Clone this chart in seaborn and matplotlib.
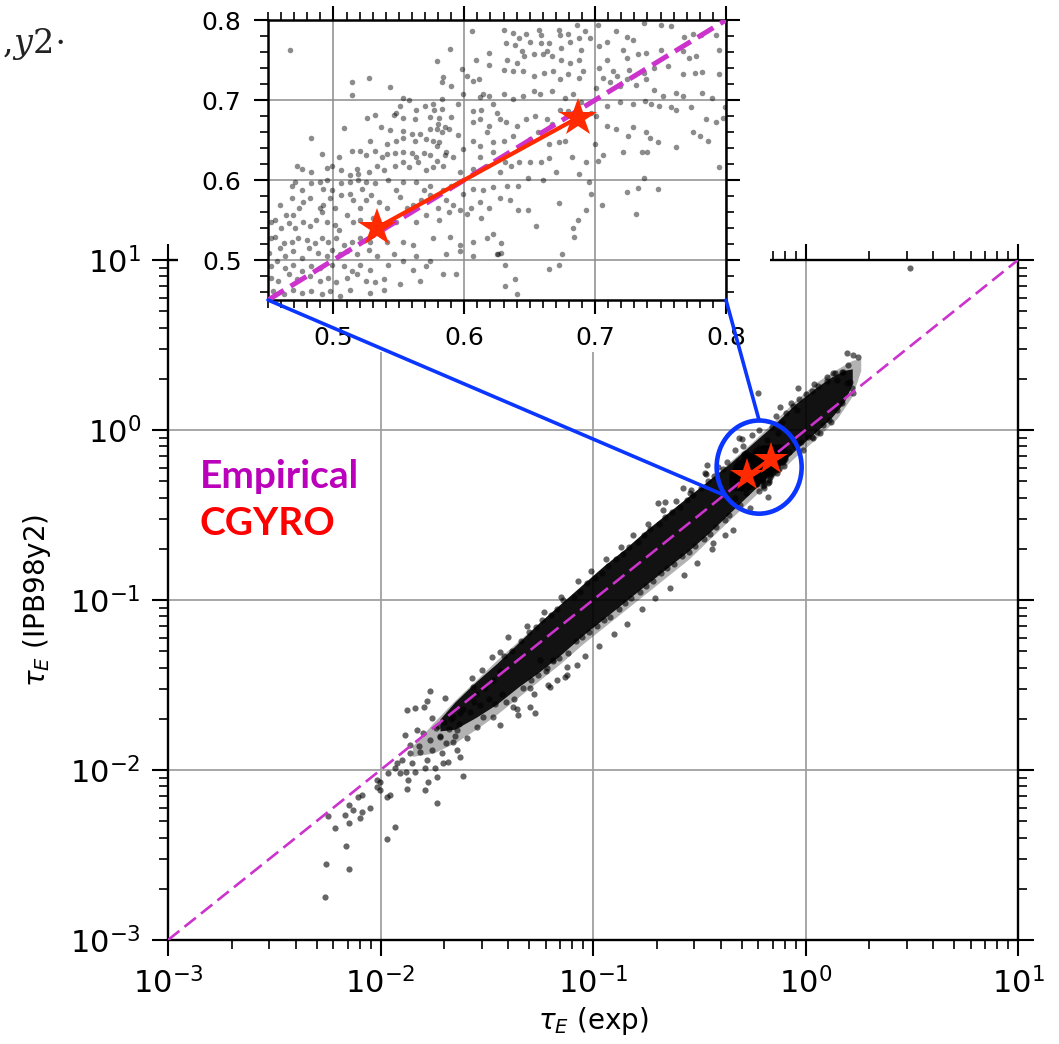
import numpy as np
import pandas as pd
import matplotlib
matplotlib.use("Agg")
import matplotlib.pyplot as plt
import seaborn as sns
from matplotlib.patches import Ellipse, Rectangle, ConnectionPatch
from matplotlib.ticker import MultipleLocator

# ---------------------------------------------------------------------------
# Data
# ---------------------------------------------------------------------------
axis_limits = [1e-3, 1e1]
zoom_limits = [0.45, 0.80]

# Sparse low-confinement tail and the edges of the database cloud (log10 values)
tail_log = np.array([
    (-2.261, -2.747), (-2.256, -2.553), (-2.148, -2.582), (-2.162, -2.447), (-1.969, -2.406),
    (-1.932, -2.335), (-2.214, -2.341), (-2.247, -2.271), (-2.167, -2.265), (-2.148, -2.312),
    (-2.096, -2.282), (-2.087, -2.247), (-2.129, -2.235), (-2.150, -2.206), (-2.049, -2.224),
    (-2.087, -2.147), (-2.106, -2.159), (-2.016, -2.059), (-2.002, -2.118), (-1.969, -2.159),
    (-1.955, -2.147), (-1.875, -2.112), (-1.791, -2.118), (-1.734, -2.194), (-1.612, -2.035),
    (-1.875, -1.647), (-1.838, -1.635), (-1.795, -1.629), (-1.767, -1.535), (-1.781, -1.594),
    (-2.002, -2.071), (-2.016, -2.100), (-1.965, -2.018), (-1.922, -1.959), (-1.861, -1.900),
    (-1.814, -1.894), (-1.781, -1.941), (-1.744, -1.988), (-1.706, -1.959), (-1.682, -1.953),
    (-1.640, -1.882), (-1.626, -1.924), (-1.908, -2.018), (-1.880, -2.012), (-1.838, -2.012),
    (-1.871, -2.059), (-1.776, -2.071), (-1.734, -2.041), (-1.885, -1.794), (-1.828, -1.765),
    (-1.861, -1.853), (-1.767, -1.824), (-1.720, -1.806), (-1.659, -1.835), (-1.593, -1.812),
    (-1.640, -1.765), (-1.758, -1.694), (-1.696, -1.576), (-1.626, -1.665), (-1.546, -1.747),
    (-1.518, -1.688), (-1.471, -1.688), (-1.438, -1.735), (-1.376, -1.629), (-1.353, -1.676),
    (-1.296, -1.629), (-1.273, -1.665), (-1.296, -1.518), (-1.202, -1.512), (-1.169, -1.471),
    (-1.122, -1.441), (-1.216, -1.400), (-1.249, -1.353), (-1.188, -1.353), (-1.122, -1.394),
    (-1.075, -1.382), (-1.569, -1.459), (-1.522, -1.412), (-1.475, -1.335), (-1.438, -1.306),
    (-1.565, -1.512), (-1.700, -1.720), (-1.680, -1.760), (-1.660, -1.690), (-1.630, -1.730),
    (-1.610, -1.640), (-1.580, -1.660), (-1.560, -1.600), (-1.550, -1.550), (-1.530, -1.620),
    (-1.510, -1.520), (-1.490, -1.580), (-1.470, -1.470), (-1.460, -1.610), (-1.440, -1.420),
    (-1.430, -1.550), (-1.720, -1.800), (-1.740, -1.750), (-1.690, -1.840), (-1.650, -1.800),
    (-1.930, -1.990), (-1.900, -1.940), (-1.850, -1.960), (-1.820, -1.860), (-1.800, -1.780),
    (-1.790, -1.990), (-1.760, -1.880), (-1.730, -1.740), (-1.710, -1.900), (-1.670, -1.700),
])

edge_log = np.array([
    (-1.42, -1.33), (-1.41, -1.60), (-1.38, -1.30), (-1.37, -1.58), (-1.34, -1.24), (-1.33, -1.52),
    (-1.30, -1.19), (-1.29, -1.47), (-1.27, -1.16), (-1.26, -1.44), (-1.24, -1.12), (-1.22, -1.42),
    (-1.20, -1.09), (-1.19, -1.36), (-1.17, -1.05), (-1.16, -1.34), (-1.14, -1.00), (-1.12, -1.31),
    (-1.09, -0.98), (-1.08, -1.24), (-1.06, -0.95), (-1.05, -1.22), (-1.03, -0.90), (-1.02, -1.19),
    (-0.99, -0.87), (-0.98, -1.15), (-0.96, -0.84), (-0.95, -1.12), (-0.93, -0.80), (-0.92, -1.10),
    (-0.89, -0.76), (-0.88, -1.05), (-0.86, -0.73), (-0.85, -1.02), (-0.83, -0.69), (-0.82, -0.99),
    (-0.79, -0.66), (-0.78, -0.95), (-0.76, -0.62), (-0.75, -0.92), (-0.73, -0.58), (-0.72, -0.89),
    (-0.69, -0.55), (-0.68, -0.84), (-0.66, -0.51), (-0.65, -0.81), (-0.63, -0.48), (-0.62, -0.79),
    (-0.59, -0.45), (-0.58, -0.74), (-0.56, -0.41), (-0.55, -0.72), (-0.53, -0.38), (-0.52, -0.68),
    (-0.49, -0.34), (-0.48, -0.64), (-0.46, -0.30), (-0.45, -0.61), (-0.43, -0.27), (-0.42, -0.57),
    (-0.39, -0.23), (-0.38, -0.53), (-0.37, -0.19), (-0.36, -0.50),
    (-0.313, -0.047), (-0.294, -0.094), (-0.463, -0.206), (-0.473, -0.253), (-0.576, -0.341),
    (-0.544, -0.371), (-0.694, -0.429), (-0.661, -0.424), (-0.224, 0.218), (-0.176, -0.394),
    (-0.341, -0.588), (-0.435, -0.665), (-0.30, -0.05), (-0.25, -0.03), (-0.22, 0.00),
    (-0.18, -0.06), (-0.16, 0.02), (-0.13, -0.02), (-0.11, 0.05), (-0.14, 0.08),
    (-0.33, -0.40), (-0.31, -0.44), (-0.28, -0.37), (-0.22, -0.36),
    (-0.09, 0.10), (-0.08, -0.13), (-0.06, 0.14), (-0.05, -0.09), (-0.03, 0.18), (-0.02, -0.07),
    (0.00, 0.21), (0.01, -0.04), (0.03, 0.23), (0.035, -0.047), (0.054, -0.012), (0.06, 0.26),
    (0.08, 0.03), (0.10, 0.29), (0.101, 0.312), (0.11, 0.06), (0.129, 0.335), (0.139, 0.335),
    (0.149, 0.294), (0.15, 0.12), (0.172, 0.341), (0.176, 0.341), (0.195, 0.276), (0.195, 0.453),
    (0.209, 0.282), (0.219, 0.247), (0.224, 0.218), (0.224, 0.441), (0.247, 0.429),
    (-0.035, 0.247), (-0.12, 0.135), (-0.04, 0.118), (0.031, -0.041), (0.492, 0.953),
    (-1.40, -1.22), (-1.36, -1.64), (-1.31, -1.15), (-1.28, -1.55), (-1.23, -1.07), (-1.21, -1.50),
    (-1.15, -0.98), (-1.13, -1.45), (-1.07, -0.89), (-1.04, -1.33), (-1.01, -0.83), (-0.97, -1.27),
    (-0.94, -0.76), (-0.90, -1.20), (-0.87, -0.69), (-0.84, -1.14), (-0.81, -0.62), (-0.77, -1.05),
    (-0.74, -0.55), (-0.71, -0.99), (-0.67, -0.47), (-0.64, -0.93), (-0.61, -0.42), (-0.57, -0.85),
    (-0.54, -0.35), (-0.51, -0.78), (-0.47, -0.26), (-0.44, -0.70), (-0.41, -0.22), (-0.38, -0.62),
    (-0.26, -0.46), (-0.20, -0.33), (-0.10, -0.21), (-0.07, 0.16), (-0.01, -0.12), (0.04, 0.27),
    (0.07, -0.02), (0.12, 0.05), (0.17, 0.16), (0.20, 0.38),
])

# Dense core of the cloud and its fainter halo: lower / upper envelopes (log10 values)
halo_lx = [-1.85, -1.75, -1.65, -1.55, -1.45, -1.35, -1.25, -1.15, -1.05, -0.95, -0.85,
           -0.75, -0.65, -0.55, -0.45, -0.35, -0.25, -0.15, -0.05, 0.05, 0.15, 0.22, 0.26]
halo_lo = [-1.92, -1.90, -1.84, -1.76, -1.67, -1.57, -1.47, -1.37, -1.26, -1.16, -1.06,
           -0.96, -0.86, -0.76, -0.64, -0.52, -0.40, -0.28, -0.16, -0.05, 0.07, 0.20, 0.35]
halo_hi = [-1.86, -1.72, -1.59, -1.47, -1.35, -1.24, -1.13, -1.02, -0.91, -0.80, -0.70,
           -0.59, -0.49, -0.39, -0.29, -0.18, -0.07, 0.05, 0.17, 0.28, 0.36, 0.41, 0.42]

core_lx = [-1.72, -1.65, -1.55, -1.45, -1.35, -1.25, -1.15, -1.05, -0.95, -0.85, -0.75,
           -0.65, -0.55, -0.45, -0.35, -0.25, -0.15, -0.05, 0.05, 0.12, 0.18, 0.22]
core_lo = [-1.77, -1.76, -1.69, -1.61, -1.51, -1.42, -1.32, -1.21, -1.11, -1.01, -0.91,
           -0.81, -0.71, -0.60, -0.48, -0.36, -0.24, -0.12, -0.01, 0.07, 0.16, 0.27]
core_hi = [-1.70, -1.60, -1.48, -1.37, -1.25, -1.13, -1.02, -0.91, -0.80, -0.70, -0.59,
           -0.49, -0.39, -0.29, -0.19, -0.08, 0.03, 0.15, 0.25, 0.31, 0.35, 0.36]

# Discharges around the two simulated cases (linear values, seconds)
near_a = np.array([
    (0.467, 0.762), (0.606, 0.786), (0.589, 0.764), (0.579, 0.749), (0.619, 0.759), (0.619, 0.744),
    (0.609, 0.750), (0.598, 0.739), (0.602, 0.730), (0.607, 0.724), (0.611, 0.726), (0.584, 0.729),
    (0.590, 0.717), (0.583, 0.722), (0.514, 0.722), (0.514, 0.706), (0.527, 0.728), (0.543, 0.716),
    (0.553, 0.703), (0.558, 0.700), (0.599, 0.708), (0.612, 0.704), (0.614, 0.708), (0.619, 0.705),
    (0.583, 0.701), (0.576, 0.695), (0.570, 0.692), (0.563, 0.688), (0.577, 0.687), (0.583, 0.689),
    (0.551, 0.693), (0.548, 0.684), (0.595, 0.695), (0.607, 0.686), (0.613, 0.688), (0.622, 0.695),
    (0.526, 0.678), (0.532, 0.681), (0.546, 0.681), (0.553, 0.677), (0.562, 0.676), (0.574, 0.679),
    (0.581, 0.678), (0.590, 0.679), (0.580, 0.670), (0.612, 0.676), (0.619, 0.668), (0.625, 0.684),
    (0.508, 0.665), (0.536, 0.666), (0.543, 0.662), (0.553, 0.661), (0.560, 0.657), (0.566, 0.657),
    (0.574, 0.664), (0.579, 0.664), (0.583, 0.660), (0.585, 0.666), (0.588, 0.664), (0.595, 0.656),
    (0.607, 0.672), (0.617, 0.660), (0.483, 0.652), (0.528, 0.649), (0.541, 0.645), (0.548, 0.649),
    (0.553, 0.652), (0.562, 0.649), (0.571, 0.651), (0.576, 0.649), (0.581, 0.647), (0.579, 0.643),
    (0.586, 0.635), (0.607, 0.649), (0.612, 0.643), (0.622, 0.647), (0.491, 0.632), (0.504, 0.629),
    (0.514, 0.636), (0.520, 0.636), (0.525, 0.631), (0.532, 0.636), (0.537, 0.629), (0.541, 0.633),
    (0.547, 0.634), (0.553, 0.635), (0.560, 0.634), (0.563, 0.629), (0.569, 0.634), (0.574, 0.631),
    (0.579, 0.624), (0.585, 0.631), (0.591, 0.629), (0.599, 0.639), (0.612, 0.629), (0.622, 0.635),
    (0.472, 0.618), (0.476, 0.614), (0.483, 0.610), (0.495, 0.615), (0.499, 0.618), (0.506, 0.613),
    (0.513, 0.606), (0.518, 0.614), (0.519, 0.608), (0.527, 0.610), (0.533, 0.618), (0.539, 0.612),
    (0.547, 0.618), (0.553, 0.622), (0.558, 0.616), (0.565, 0.622), (0.571, 0.612), (0.576, 0.616),
    (0.584, 0.618), (0.597, 0.610), (0.607, 0.614), (0.617, 0.618), (0.468, 0.593), (0.471, 0.598),
    (0.476, 0.587), (0.483, 0.596), (0.490, 0.598), (0.495, 0.600), (0.492, 0.589), (0.499, 0.587),
    (0.506, 0.596), (0.513, 0.598), (0.519, 0.600), (0.525, 0.598), (0.522, 0.589), (0.532, 0.596),
    (0.542, 0.600), (0.548, 0.587), (0.553, 0.598), (0.563, 0.598), (0.569, 0.587), (0.574, 0.593),
    (0.584, 0.587), (0.590, 0.593), (0.599, 0.583), (0.607, 0.589), (0.614, 0.587), (0.622, 0.591),
    (0.459, 0.569), (0.464, 0.556), (0.469, 0.556), (0.468, 0.577), (0.474, 0.565), (0.477, 0.573),
    (0.482, 0.577), (0.490, 0.565), (0.492, 0.569), (0.497, 0.577), (0.501, 0.565), (0.506, 0.581),
    (0.513, 0.583), (0.515, 0.575), (0.520, 0.565), (0.525, 0.575), (0.529, 0.581), (0.535, 0.573),
    (0.541, 0.565), (0.551, 0.579), (0.556, 0.565), (0.561, 0.569), (0.567, 0.575), (0.574, 0.581),
    (0.580, 0.565), (0.586, 0.575), (0.591, 0.569), (0.597, 0.562), (0.605, 0.565), (0.612, 0.573),
    (0.619, 0.565), (0.452, 0.548), (0.455, 0.550), (0.460, 0.540), (0.466, 0.546), (0.471, 0.540),
    (0.477, 0.548), (0.482, 0.542), (0.487, 0.550), (0.491, 0.560), (0.495, 0.548), (0.501, 0.544),
    (0.504, 0.538), (0.510, 0.556), (0.515, 0.548), (0.520, 0.550), (0.530, 0.552), (0.548, 0.548),
    (0.556, 0.560), (0.563, 0.548), (0.571, 0.556), (0.581, 0.550), (0.588, 0.560), (0.602, 0.558),
    (0.613, 0.552), (0.452, 0.527), (0.455, 0.529), (0.462, 0.521), (0.468, 0.523), (0.473, 0.527),
    (0.480, 0.525), (0.486, 0.521), (0.491, 0.527), (0.496, 0.523), (0.502, 0.527), (0.508, 0.519),
    (0.514, 0.523), (0.520, 0.527), (0.528, 0.523), (0.541, 0.523), (0.553, 0.523), (0.561, 0.519),
    (0.576, 0.527), (0.589, 0.529), (0.597, 0.519), (0.607, 0.523), (0.617, 0.527), (0.622, 0.532),
    (0.451, 0.509), (0.459, 0.515), (0.463, 0.505), (0.469, 0.511), (0.476, 0.503), (0.481, 0.515),
    (0.488, 0.509), (0.495, 0.505), (0.499, 0.513), (0.505, 0.507), (0.510, 0.511), (0.518, 0.507),
    (0.527, 0.513), (0.533, 0.505), (0.546, 0.507), (0.553, 0.499), (0.563, 0.505), (0.574, 0.499),
    (0.586, 0.507), (0.597, 0.511), (0.607, 0.505), (0.625, 0.507), (0.452, 0.492), (0.457, 0.499),
    (0.463, 0.490), (0.469, 0.494), (0.476, 0.486), (0.483, 0.492), (0.490, 0.490), (0.499, 0.494),
    (0.508, 0.492), (0.514, 0.486), (0.520, 0.494), (0.528, 0.488), (0.542, 0.494), (0.561, 0.488),
    (0.571, 0.492), (0.452, 0.478), (0.458, 0.474), (0.466, 0.482), (0.472, 0.476), (0.482, 0.480),
    (0.490, 0.474), (0.496, 0.478), (0.502, 0.472), (0.510, 0.478), (0.518, 0.482), (0.525, 0.474),
    (0.532, 0.472), (0.539, 0.476), (0.551, 0.470), (0.566, 0.474), (0.584, 0.482), (0.594, 0.482),
    (0.454, 0.461), (0.462, 0.457), (0.469, 0.463), (0.476, 0.459), (0.483, 0.461), (0.491, 0.457),
    (0.497, 0.461), (0.505, 0.455), (0.513, 0.463), (0.528, 0.459), (0.539, 0.463),
])

near_b = np.array([
    (0.630, 0.788), (0.637, 0.784), (0.642, 0.777), (0.647, 0.783), (0.657, 0.788), (0.659, 0.781),
    (0.672, 0.788), (0.673, 0.781), (0.679, 0.783), (0.686, 0.794), (0.692, 0.786), (0.688, 0.777),
    (0.632, 0.771), (0.639, 0.769), (0.644, 0.761), (0.650, 0.773), (0.659, 0.771), (0.665, 0.771),
    (0.663, 0.761), (0.674, 0.765), (0.681, 0.773), (0.689, 0.763), (0.696, 0.777), (0.702, 0.794),
    (0.709, 0.773), (0.716, 0.786), (0.724, 0.779), (0.729, 0.775), (0.737, 0.796), (0.750, 0.794),
    (0.758, 0.792), (0.768, 0.779), (0.775, 0.783), (0.781, 0.781), (0.792, 0.781), (0.795, 0.763),
    (0.772, 0.753), (0.777, 0.755), (0.767, 0.761), (0.750, 0.763), (0.739, 0.759), (0.733, 0.757),
    (0.721, 0.763), (0.724, 0.753), (0.709, 0.750), (0.703, 0.767), (0.633, 0.750), (0.640, 0.746),
    (0.646, 0.755), (0.653, 0.757), (0.660, 0.757), (0.667, 0.755), (0.674, 0.750), (0.681, 0.746),
    (0.688, 0.750), (0.691, 0.736), (0.688, 0.728), (0.679, 0.732), (0.673, 0.726), (0.668, 0.736),
    (0.661, 0.734), (0.653, 0.730), (0.645, 0.736), (0.637, 0.736), (0.630, 0.738), (0.703, 0.740),
    (0.714, 0.736), (0.706, 0.728), (0.717, 0.730), (0.726, 0.738), (0.737, 0.734), (0.739, 0.726),
    (0.745, 0.740), (0.756, 0.742), (0.767, 0.732), (0.776, 0.734), (0.782, 0.735), (0.795, 0.733),
    (0.701, 0.715), (0.711, 0.722), (0.719, 0.717), (0.724, 0.726), (0.731, 0.719), (0.745, 0.713),
    (0.752, 0.705), (0.762, 0.709), (0.767, 0.705), (0.782, 0.709), (0.789, 0.703), (0.630, 0.707),
    (0.637, 0.701), (0.645, 0.705), (0.653, 0.711), (0.658, 0.707), (0.667, 0.711), (0.677, 0.703),
    (0.683, 0.707), (0.689, 0.697), (0.697, 0.684), (0.709, 0.693), (0.719, 0.697), (0.729, 0.695),
    (0.738, 0.699), (0.743, 0.695), (0.749, 0.693), (0.758, 0.691), (0.762, 0.688), (0.773, 0.691),
    (0.785, 0.676), (0.792, 0.672), (0.799, 0.691), (0.798, 0.678), (0.627, 0.676), (0.632, 0.672),
    (0.640, 0.668), (0.647, 0.676), (0.654, 0.680), (0.663, 0.676), (0.667, 0.670), (0.673, 0.688),
    (0.679, 0.686), (0.686, 0.672), (0.701, 0.680), (0.709, 0.668), (0.716, 0.664), (0.725, 0.655),
    (0.729, 0.666), (0.739, 0.660), (0.742, 0.653), (0.748, 0.647), (0.762, 0.641), (0.775, 0.660),
    (0.780, 0.655), (0.786, 0.649), (0.630, 0.649), (0.637, 0.655), (0.644, 0.643), (0.650, 0.651),
    (0.656, 0.660), (0.665, 0.645), (0.672, 0.647), (0.677, 0.649), (0.682, 0.629), (0.693, 0.622),
    (0.700, 0.645), (0.702, 0.624), (0.706, 0.631), (0.721, 0.635), (0.736, 0.635), (0.740, 0.635),
    (0.631, 0.622), (0.642, 0.622), (0.650, 0.622), (0.659, 0.622), (0.665, 0.627), (0.627, 0.610),
    (0.636, 0.618), (0.633, 0.593), (0.641, 0.593), (0.649, 0.602), (0.660, 0.600), (0.670, 0.610),
    (0.688, 0.608), (0.695, 0.598), (0.697, 0.583), (0.705, 0.569), (0.724, 0.585), (0.733, 0.590),
    (0.737, 0.602), (0.748, 0.589), (0.731, 0.558), (0.627, 0.577), (0.635, 0.575), (0.641, 0.562),
    (0.649, 0.562), (0.655, 0.542), (0.672, 0.571), (0.683, 0.540), (0.684, 0.529), (0.687, 0.550),
    (0.693, 0.562), (0.628, 0.521), (0.628, 0.509), (0.626, 0.507), (0.631, 0.494), (0.639, 0.476),
    (0.640, 0.458), (0.665, 0.489), (0.672, 0.494), (0.675, 0.507),
])

# Gyrokinetic (CGYRO) predictions for the two cases
cgyro_exp = [0.533, 0.687]
cgyro_ipb = [0.540, 0.678]

# ---------------------------------------------------------------------------
tau_exp = np.concatenate([10 ** tail_log[:, 0], 10 ** edge_log[:, 0], near_a[:, 0], near_b[:, 0]])
tau_ipb = np.concatenate([10 ** tail_log[:, 1], 10 ** edge_log[:, 1], near_a[:, 1], near_b[:, 1]])
db = pd.DataFrame({"tau_exp": tau_exp, "tau_ipb": tau_ipb})

sns.set_style("ticks")
plt.rcParams["font.family"] = ["DejaVu Sans"]
plt.rcParams["mathtext.fontset"] = "dejavusans"
for key in ["text.color", "axes.labelcolor", "xtick.color", "ytick.color", "axes.edgecolor"]:
    plt.rcParams[key] = "black"

W, H = 1059, 1044
fig = plt.figure(figsize=(W / 100, H / 100), dpi=100)
fig.patch.set_facecolor("white")

MAGENTA = "#cc33cc"
STAR_RED = "#ff2a00"
BLUE = "#0a36ff"

# ---------------------------- main log-log panel ----------------------------
ax = fig.add_axes([168 / W, 1 - 940 / H, 850 / W, 680 / H])
ax.set_xscale("log")
ax.set_yscale("log")
ax.set_xlim(axis_limits)
ax.set_ylim(axis_limits)
ax.grid(True, which="major", color="#a0a0a0", lw=1.3)
ax.set_axisbelow(True)

ax.fill_between(10 ** np.array(halo_lx), 10 ** np.array(halo_lo), 10 ** np.array(halo_hi),
                color="black", alpha=0.3, lw=0, zorder=2)
ax.fill_between(10 ** np.array(core_lx), 10 ** np.array(core_lo), 10 ** np.array(core_hi),
                color="black", alpha=0.9, lw=0, zorder=2.1)
sns.scatterplot(data=db, x="tau_exp", y="tau_ipb", ax=ax, color="black", alpha=0.6,
                s=20, linewidth=0, zorder=3, legend=False)

diag = np.array(axis_limits)
ax.plot(diag, diag, color=MAGENTA, lw=1.9, dashes=(5.5, 2.5), zorder=4)

ax.plot(cgyro_exp, cgyro_ipb, color=STAR_RED, lw=2.5, zorder=6)
ax.plot(cgyro_exp, cgyro_ipb, ls="none", marker="*", ms=25, color=STAR_RED, mew=0, zorder=7)

# ellipse around the two cases, centred on their geometric mean
centre = (np.exp(np.mean(np.log(cgyro_exp))), np.exp(np.mean(np.log(cgyro_ipb))))
c_ax = ax.transAxes.inverted().transform(ax.transData.transform(centre))
ell_w, ell_h = 0.100, 0.137
ax.add_patch(Ellipse(c_ax, ell_w, ell_h, transform=ax.transAxes, fill=False,
                     edgecolor=BLUE, lw=3.3, zorder=8))

ax.tick_params(which="both", direction="out", top=True, right=True,
               labeltop=False, labelright=False)
ax.tick_params(which="major", length=11.5, width=1.5, labelsize=22, pad=8)
ax.tick_params(which="minor", length=6.5, width=1.2)
for sp in ax.spines.values():
    sp.set_linewidth(1.7)

ax.set_xlabel(r"$\tau_E$ (exp)", fontsize=20, labelpad=4)
ax.set_ylabel(r"$\tau_E$ (IPB98y2)", fontsize=20, labelpad=12)

ax.text(0.037, 0.681, "Empirical", transform=ax.transAxes, color="#bb00bb",
        fontsize=28, fontweight="bold", family="Lato", va="center", ha="left", zorder=9)
ax.text(0.037, 0.613, "CGYRO", transform=ax.transAxes, color="#ff0000",
        fontsize=28, fontweight="bold", family="Lato", va="center", ha="left", zorder=9)

# white backing behind the zoom panel
fig.add_artist(Rectangle((178 / W, 1 - 352 / H), (770 - 178) / W, 352 / H,
                         transform=fig.transFigure, facecolor="white",
                         edgecolor="none", zorder=0.5))

# ---------------------------- zoom panel ----------------------------
ins = fig.add_axes([268 / W, 1 - 300 / H, 458 / W, 280 / H])
ins.set_zorder(1)
ins.set_xlim(zoom_limits)
ins.set_ylim(zoom_limits)
ins.grid(True, which="major", color="#8c8c8c", lw=1.1)
ins.set_axisbelow(True)
sns.scatterplot(data=db, x="tau_exp", y="tau_ipb", ax=ins, color="black", alpha=0.45,
                s=16, linewidth=0, zorder=3, legend=False)
zdiag = np.array(zoom_limits)
ins.plot(zdiag, zdiag, color=MAGENTA, lw=3.6, ls="--", zorder=4)
ins.plot(cgyro_exp, cgyro_ipb, color=STAR_RED, lw=3.0, zorder=6)
ins.plot(cgyro_exp, cgyro_ipb, ls="none", marker="*", ms=29, color=STAR_RED, mew=0, zorder=7)

ins.xaxis.set_major_locator(MultipleLocator(0.1))
ins.yaxis.set_major_locator(MultipleLocator(0.1))
ins.xaxis.set_minor_locator(MultipleLocator(0.01))
ins.yaxis.set_minor_locator(MultipleLocator(0.02))
ins.tick_params(which="both", direction="out", top=True, right=True,
                labeltop=False, labelright=False)
ins.tick_params(which="major", length=10, width=1.5, labelsize=18, pad=9)
ins.tick_params(which="minor", length=5.5, width=1.2)
for sp in ins.spines.values():
    sp.set_linewidth(1.8)
ins.set_xlabel("")
ins.set_ylabel("")

# connectors from the zoom panel to the ellipse
t = np.deg2rad(218)
p_low = (c_ax[0] + 0.5 * ell_w * np.cos(t), c_ax[1] + 0.5 * ell_h * np.sin(t))
p_top = (c_ax[0], c_ax[1] + 0.5 * ell_h)
for xy_a, xy_b in [((zoom_limits[0], zoom_limits[0]), p_low),
                   ((zoom_limits[1], zoom_limits[0]), p_top)]:
    con = ConnectionPatch(xyA=xy_a, coordsA=ins.transData, xyB=xy_b, coordsB=ax.transAxes,
                          color=BLUE, lw=2.6, zorder=2)
    fig.add_artist(con)

# running header fragment at the page corner
fig.text(0.002, 1 - 53 / H, r"$,\!y2\!\cdot$", fontsize=24, va="baseline", ha="left",
         math_fontfamily="dejavuserif", color="#222222")

fig.savefig("out.png", dpi=100, facecolor="white")
